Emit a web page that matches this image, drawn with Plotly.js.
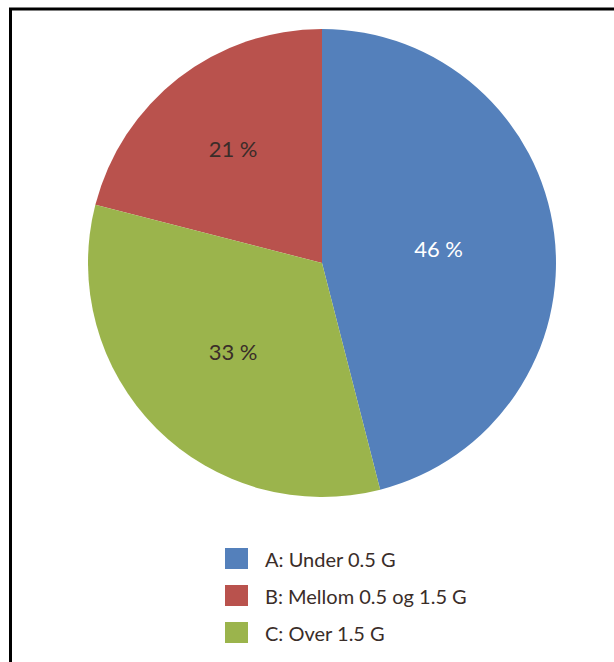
<!DOCTYPE html>
<html>
<head>
<meta charset="utf-8">
<script src="https://cdn.plot.ly/plotly-3.0.1.min.js"></script>
<style>html,body{margin:0;padding:0;background:#fff;}#chart{width:614px;height:662px;}</style>
</head>
<body>
<div id="chart"></div>
<script>
var labels = ["A: Under 0.5 G", "B: Mellom 0.5 og 1.5 G", "C: Over 1.5 G"];
var values = [46, 21, 33];
var colors = ["#5480BB", "#B9524D", "#9BB44C"];
var textColors = ["#ffffff", "#3a2d29", "#3a2d29"];

var W = 614, H = 662;
var fontFam = "Lato, 'Open Sans', sans-serif";

var trace = {
  type: "pie",
  labels: labels,
  values: values,
  sort: false,
  direction: "counterclockwise",
  rotation: 0,
  marker: {colors: colors, line: {width: 0}},
  texttemplate: "%{value} %",
  textposition: "inside",
  insidetextorientation: "horizontal",
  textfont: {family: fontFam, size: 22, color: textColors},
  hoverinfo: "label+value",
  showlegend: false,
  domain: {x: [88 / W, 556 / W], y: [(H - 497) / H, (H - 29) / H]}
};

var shapes = [{
  type: "rect", xref: "paper", yref: "paper",
  x0: 10.5 / W, x1: 1.05, y0: -0.05, y1: (H - 9) / H,
  line: {color: "#000", width: 3}, fillcolor: "rgba(0,0,0,0)"
}];
var annotations = [];
var legTop = 548, legStep = 37, sqW = 23, sqH = 21, sqX = 225, txX = 263;
labels.forEach(function(lab, i) {
  var y0 = legTop + i * legStep;
  shapes.push({
    type: "rect", xref: "paper", yref: "paper",
    x0: sqX / W, x1: (sqX + sqW) / W,
    y0: (H - y0 - sqH) / H, y1: (H - y0) / H,
    line: {width: 0}, fillcolor: colors[i]
  });
  annotations.push({
    xref: "paper", yref: "paper",
    x: txX / W, y: (H - y0 - sqH / 2) / H,
    xanchor: "left", yanchor: "middle",
    text: lab, showarrow: false,
    font: {family: fontFam, size: 20, color: "#3a2d29"}
  });
});

var layout = {
  width: W, height: H,
  margin: {l: 0, r: 0, t: 0, b: 0},
  paper_bgcolor: "#fff",
  showlegend: false,
  shapes: shapes,
  annotations: annotations
};

Plotly.newPlot("chart", [trace], layout, {displayModeBar: false, staticPlot: true});
</script>
</body>
</html>
